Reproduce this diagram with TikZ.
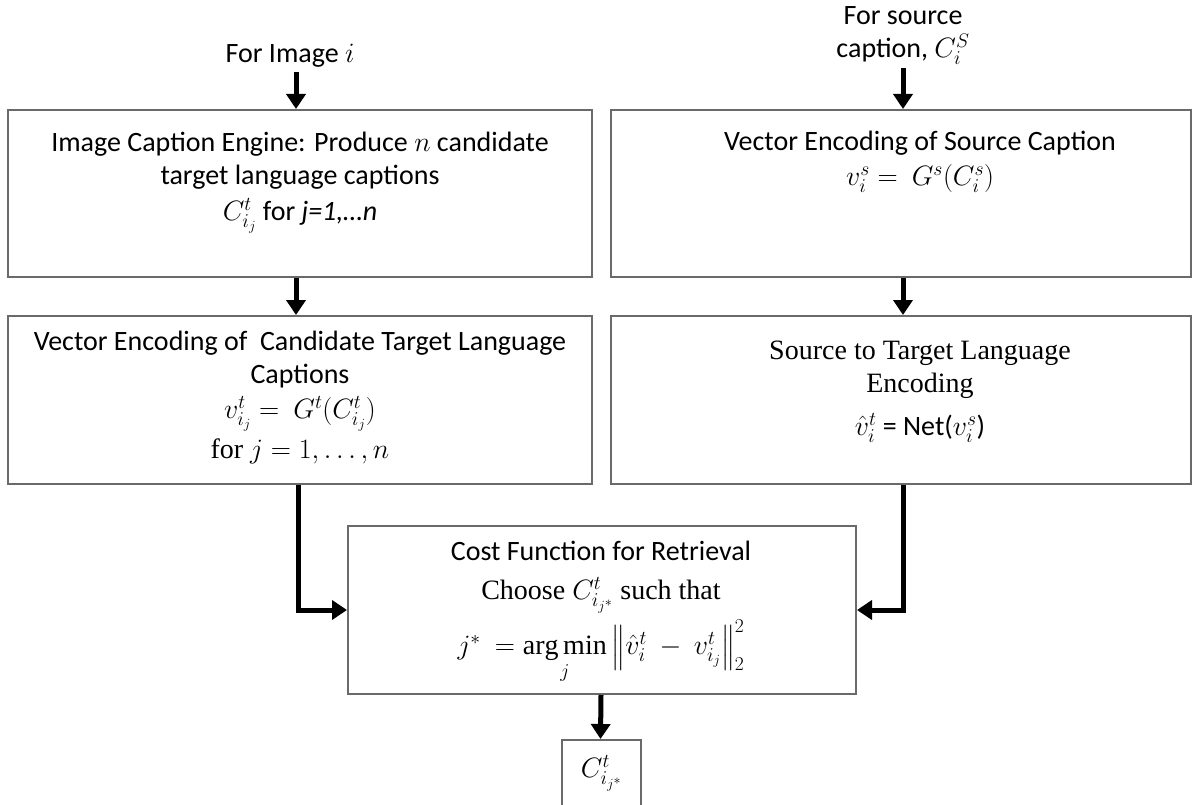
\RequirePackage{fix-cm}
\documentclass[tikz,border=0pt]{standalone}
\usepackage{amsmath}
\usepackage{fontspec}
\setmainfont{Liberation Serif}
\newfontfamily\calfont{Carlito}
\usetikzlibrary{arrows.meta}
\definecolor{boxgray}{HTML}{6A6A6A}
\begin{document}
\begin{tikzpicture}[x=1pt,y=-1pt,
  box/.style={draw=boxgray, line width=2pt, inner sep=0pt},
  txt/.style={align=center, inner sep=0pt, font=\calfont\fontsize{28}{33}\selectfont},
  arr/.style={line width=5pt, line join=miter, -{Triangle[width=19pt,length=15pt]}}]
\useasboundingbox (0,0) rectangle (1192,805);
% boxes
\node[box, anchor=north west, minimum width=584pt, minimum height=167pt] (A) at (7,109) {};
\node[box, anchor=north west, minimum width=580pt, minimum height=167pt] (B) at (610,109) {};
\node[box, anchor=north west, minimum width=584pt, minimum height=168pt] (C) at (7,315) {};
\node[box, anchor=north west, minimum width=580pt, minimum height=168pt] (D) at (610,315) {};
\node[box, anchor=north west, minimum width=508pt, minimum height=168pt] (E) at (347,525) {};
\node[box, anchor=north west, minimum width=79pt, minimum height=66pt, font=\fontsize{28}{33}\selectfont] (F) at (561,739) {$C^t_{i_{j^*}}$};
% top labels
\node[txt, anchor=north] (lA) at (290,44) {For Image $i$};
\node[txt, anchor=north] (lB) at (903,6) {For source\\caption, $C_i^S$};
% box texts
\node[txt, anchor=north] (tA) at (300,132) {Image Caption Engine: Produce $n$ candidate\\target language captions\\[3pt]$C^t_{i_j}$ for {\itshape j=1,\ldots n}};
\node[txt, anchor=north] (tB) at (920,131) {Vector Encoding of Source Caption\\[2pt]$v_i^s =\ G^s(C_i^s)$};
\node[txt, anchor=north] (tC) at (300,331) {Vector Encoding of\ \ Candidate Target Language\\Captions\\[2pt]$v^t_{i_j} =\ G^t(C^t_{i_j})$\\[7pt]{\rmfamily for $j = 1, \dots, n$}};
\node[txt, anchor=north] (tD) at (920,341) {{\rmfamily Source to Target Language}\\{\rmfamily Encoding}\\[10pt]$\hat{v}^t_i$ = Net($v^s_i$)};
\node[txt, anchor=north] (tE) at (601,541) {Cost Function for Retrieval\\[6pt]{\rmfamily Choose $C^t_{i_{j^*}}$ such that}\\[6pt]$j^*\ =\mathop{\mathrm{arg\,min}}\limits_j \left\|\hat{v}^t_i\ -\ v^t_{i_j}\right\|_2^2$};
% connectors
\draw[arr] ([xshift=289pt]A.north west |- lA.south) ++(0,4) -- ([xshift=289pt]A.north west);
\draw[arr] ([xshift=293pt]B.north west |- lB.south) ++(0,4) -- ([xshift=293pt]B.north west);
\draw[arr] ([xshift=289pt]A.south west) -- ([xshift=289pt]C.north west);
\draw[arr] ([xshift=293pt]B.south west) -- ([xshift=293pt]D.north west);
\draw[arr] ([xshift=291pt]C.south west) |- (E.west);
\draw[arr] ([xshift=293pt]D.south west) |- (E.east);
\draw[arr] ([xshift=254pt]E.south west) -- ([xshift=39.5pt]F.north west);
\end{tikzpicture}
\end{document}
